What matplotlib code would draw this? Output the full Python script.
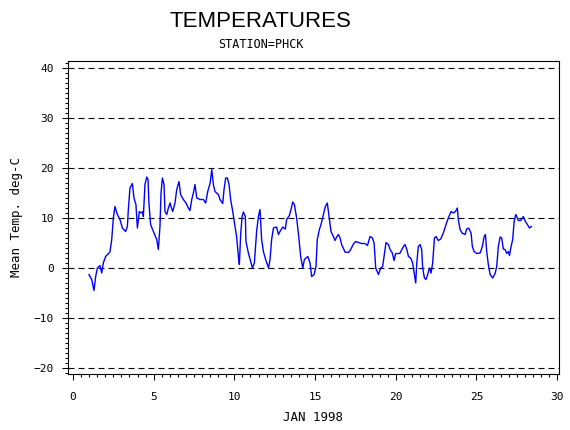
import matplotlib
matplotlib.use('AGG')
import matplotlib.pyplot as plt
from matplotlib.ticker import MultipleLocator

# Mean daily temperature trace, station PHCK, Jan 1998
days = [0.99, 1.16, 1.30, 1.40, 1.51, 1.67, 1.78, 1.88, 2.02, 2.29, 2.40, 2.50,
        2.60, 2.75, 2.91, 3.06, 3.26, 3.37, 3.43, 3.53, 3.68, 3.78, 3.90, 3.99,
        4.11, 4.21, 4.32, 4.36, 4.46, 4.57, 4.65, 4.71, 4.81, 4.98, 5.19, 5.29,
        5.39, 5.45, 5.54, 5.64, 5.70, 5.81, 5.91, 6.02, 6.07, 6.18, 6.32, 6.43,
        6.57, 6.67, 6.84, 7.00, 7.15, 7.25, 7.36, 7.46, 7.56, 7.67, 7.87, 8.08,
        8.22, 8.35, 8.50, 8.60, 8.70, 8.80, 9.01, 9.11, 9.28, 9.36, 9.46, 9.57,
        9.67, 9.77, 9.90, 10.02, 10.14, 10.25, 10.31, 10.39, 10.48, 10.56, 10.68,
        10.72, 10.87, 11.01, 11.12, 11.24, 11.38, 11.49, 11.59, 11.69, 11.80,
        11.94, 12.12, 12.21, 12.31, 12.42, 12.62, 12.73, 12.83, 13.00, 13.16,
        13.24, 13.41, 13.51, 13.62, 13.72, 13.86, 13.99, 14.11, 14.24, 14.34,
        14.55, 14.69, 14.79, 14.94, 15.06, 15.14, 15.27, 15.37, 15.52, 15.64,
        15.76, 15.87, 15.99, 16.14, 16.24, 16.34, 16.45, 16.55, 16.65, 16.86,
        17.07, 17.21, 17.38, 17.52, 17.69, 17.89, 18.10, 18.25, 18.41, 18.56,
        18.66, 18.76, 18.93, 19.07, 19.19, 19.28, 19.40, 19.55, 19.65, 19.79,
        19.90, 20.00, 20.21, 20.27, 20.48, 20.58, 20.69, 20.79, 20.93, 21.05,
        21.16, 21.24, 21.30, 21.40, 21.51, 21.61, 21.67, 21.78, 21.88, 21.98,
        22.09, 22.19, 22.29, 22.40, 22.50, 22.64, 22.79, 22.95, 23.12, 23.26,
        23.43, 23.57, 23.70, 23.82, 23.88, 23.99, 24.11, 24.30, 24.40, 24.52,
        24.67, 24.75, 24.86, 25.02, 25.23, 25.37, 25.48, 25.56, 25.64, 25.74,
        25.85, 26.01, 26.16, 26.26, 26.36, 26.47, 26.57, 26.67, 26.78, 26.88,
        26.98, 27.05, 27.13, 27.25, 27.34, 27.44, 27.50, 27.60, 27.75, 27.91,
        28.04, 28.16, 28.29, 28.41]
temps = [-1.3, -2.3, -4.5, -1.8, 0.0, 0.5, -1.0, 1.0, 2.3, 3.2, 5.7, 10.0,
         12.3, 10.7, 9.7, 8.0, 7.3, 8.3, 11.7, 16.0, 16.9, 14.0, 12.7, 8.0,
         11.3, 11.0, 11.3, 10.3, 16.7, 18.2, 17.7, 12.7, 8.7, 7.3, 5.7, 3.7,
         8.3, 14.7, 18.0, 16.7, 11.3, 10.7, 12.0, 13.0, 12.3, 11.3, 13.0, 15.7,
         17.3, 14.7, 13.7, 13.0, 12.0, 11.5, 13.7, 15.0, 16.7, 14.0, 13.7, 13.7,
         13.0, 15.3, 17.0, 19.7, 16.7, 15.3, 14.7, 13.7, 12.9, 15.7, 18.0, 18.0,
         16.7, 13.7, 11.3, 8.7, 6.3, 2.3, 0.7, 6.7, 10.3, 11.2, 10.3,
         5.3, 3.0, 1.3, 0.0, 1.0, 7.3, 10.3, 11.7, 5.7, 3.3,
         1.7, 0.0, 1.7, 5.7, 8.0, 8.2, 6.7, 7.3, 8.2, 7.8,
         9.7, 10.5, 11.7, 13.2, 12.7, 10.0, 6.3, 2.3, 0.0, 1.7,
         2.3, 1.0, -1.7, -1.3, 0.3, 5.7, 7.7, 8.7, 10.7, 12.3,
         13.0, 10.3, 7.3, 6.3, 5.5, 6.2, 6.7, 6.0, 4.7, 3.2,
         3.1, 3.7, 4.8, 5.3, 5.1, 4.9, 4.9, 4.5, 6.3, 6.0,
         5.0, 0.0, -1.3, 0.0, 0.3, 2.3, 5.1, 4.7, 3.7, 3.0,
         1.5, 2.9, 2.9, 3.0, 4.3, 4.7, 3.7, 2.3, 2.0, 1.0,
         -1.3, -3.0, 0.7, 4.3, 4.7, 3.7, 0.0, -2.0, -2.3, -1.3,
         0.0, -1.0, 1.0, 6.0, 6.3, 5.5, 5.8, 7.0, 8.7, 10.0,
         11.3, 11.0, 11.3, 12.0, 9.7, 7.7, 7.0, 6.7, 7.8, 8.0,
         7.0, 4.3, 3.3, 2.9, 3.0, 4.3, 6.3, 6.7, 3.3, 0.7,
         -1.3, -2.0, -1.1, 0.3, 4.3, 6.2, 6.0, 3.8, 3.7, 2.9,
         3.3, 2.5, 4.0, 5.7, 9.3, 10.7, 10.3, 9.5, 9.5, 10.3,
         9.3, 8.7, 8.0, 8.3]

x_ticks = [0, 5, 10, 15, 20, 25, 30]
y_ticks = [-20, -10, 0, 10, 20, 30, 40]

mono = 'DejaVu Sans Mono'

fig = plt.figure(figsize=(5.7, 4.3), dpi=100)
ax = fig.add_axes([0.1193, 0.1302, 0.8614, 0.7279])

for y in y_ticks:
    ax.axhline(y, color='black', lw=0.8, dashes=(5.4, 3.6), zorder=1)

ax.plot(days, temps, color='#0000ff', lw=1.0, zorder=3)

ax.set_xlim(-0.31, 30.12)
ax.set_ylim(-21.2, 41.4)
ax.set_xticks(x_ticks)
ax.set_yticks(y_ticks)
ax.xaxis.set_minor_locator(MultipleLocator(0.5))
ax.yaxis.set_minor_locator(MultipleLocator(1))
ax.tick_params(which='both', direction='out', top=False, right=False,
               width=0.75, colors='black')
ax.tick_params(which='major', length=4)
ax.tick_params(which='minor', length=2)
ax.tick_params(axis='y', which='major', pad=6)
ax.tick_params(axis='x', which='major', pad=9)
for lab in ax.get_xticklabels() + ax.get_yticklabels():
    lab.set_fontfamily(mono)
    lab.set_fontsize(8)
for sp in ax.spines.values():
    sp.set_linewidth(0.8)

fig.text(260 / 570, 0.951, 'TEMPERATURES', ha='center', va='center',
         family='Liberation Sans', fontsize=16)
fig.text(261 / 570, 0.8965, 'STATION=PHCK', ha='center', va='center',
         family=mono, fontsize=8.5)
fig.text(313 / 570, 0.029, 'JAN 1998', ha='center', va='center',
         family=mono, fontsize=9)
fig.text(17 / 570, 0.495, 'Mean Temp. deg-C', ha='center', va='center',
         rotation=90, family=mono, fontsize=9)

fig.savefig('out.png', dpi=100)
plt.close(fig)
